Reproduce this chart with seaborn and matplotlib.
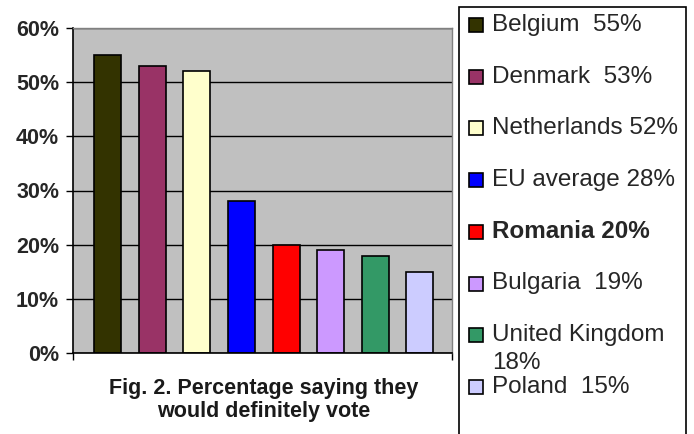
import seaborn as sns
import matplotlib.pyplot as plt
import pandas as pd
from matplotlib.patches import Rectangle

countries = ["Belgium", "Denmark", "Netherlands", "EU average", "Romania",
             "Bulgaria", "United Kingdom", "Poland"]
values = [55, 53, 52, 28, 20, 19, 18, 15]
colors = ["#333300", "#993366", "#FFFFCC", "#0000FF", "#FF0000",
          "#CC99FF", "#339966", "#CCCCFF"]
legend_labels = ["Belgium  55%", "Denmark  53%", "Netherlands 52%", "EU average 28%",
                 "Romania 20%", "Bulgaria  19%", "United Kingdom\n18%", "Poland  15%"]
bold_entries = ["Romania"]
yticks = [0, 10, 20, 30, 40, 50, 60]
ytick_labels = ["0%", "10%", "20%", "30%", "40%", "50%", "60%"]
title = "Fig. 2. Percentage saying they\nwould definitely vote"

sns.set_style("white")
plt.rcParams['font.family'] = ['Liberation Sans', 'DejaVu Sans']

W, H = 694, 434
fig = plt.figure(figsize=(W / 100, H / 100), dpi=100)
fig.patch.set_facecolor("white")

left, right, top, bottom = 73, 452, 28, 353
ax = fig.add_axes([left / W, 1 - bottom / H, (right - left) / W, (bottom - top) / H])

df = pd.DataFrame({"country": countries, "value": values})
sns.barplot(data=df, x="country", y="value", hue="country", palette=colors,
            legend=False, width=0.605, edgecolor="black", linewidth=1.2, ax=ax,
            saturation=1)

ax.set_facecolor("#C0C0C0")
ax.set_ylim(0, 60)
ax.set_xlim(-0.774, 7.72)
ax.set_yticks(yticks)
ax.set_yticklabels(ytick_labels, fontweight="bold", fontsize=15.5)
ax.set_xticks([-0.774, 7.72])
ax.set_xticklabels([])
ax.yaxis.grid(True, color="black", linewidth=1)
ax.xaxis.grid(False)
ax.set_axisbelow(True)
ax.tick_params(axis="both", which="both", left=True, bottom=True, length=5, width=1,
               color="black", direction="out", pad=5)
ax.set_xlabel("")
ax.set_ylabel("")
for s in ["left", "bottom"]:
    ax.spines[s].set_color("black")
    ax.spines[s].set_linewidth(1.2)
for s in ["top", "right"]:
    ax.spines[s].set_color("#808080")
    ax.spines[s].set_linewidth(1)

fig.text(264 / W, 1 - 400 / H, title, ha="center", va="center", fontweight="bold",
         fontsize=15.5, linespacing=1.15, color="#1a1a1a")

# legend box
lx0, lx1, ly0 = 459, 686, 7
fig.add_artist(Rectangle((lx0 / W, -0.1), (lx1 - lx0) / W, 1.1 - ly0 / H,
                         transform=fig.transFigure, fill=False, edgecolor="black",
                         linewidth=1.2, clip_on=False))
y0, dy = 25, 51.7
for i, (lab, col) in enumerate(zip(legend_labels, colors)):
    yc = y0 + dy * i
    fig.add_artist(Rectangle((469 / W, 1 - (yc + 7) / H), 14 / W, 14 / H,
                             transform=fig.transFigure, facecolor=col,
                             edgecolor="black", linewidth=1.2))
    weight = "bold" if countries[i] in bold_entries else "normal"
    for k, line in enumerate(lab.split("\n")):
        fig.text(492 / W, 1 - (yc + 28 * k) / H, line, ha="left", va="center",
                 fontsize=17.5, fontweight=weight)

fig.savefig("out.png", dpi=100)
